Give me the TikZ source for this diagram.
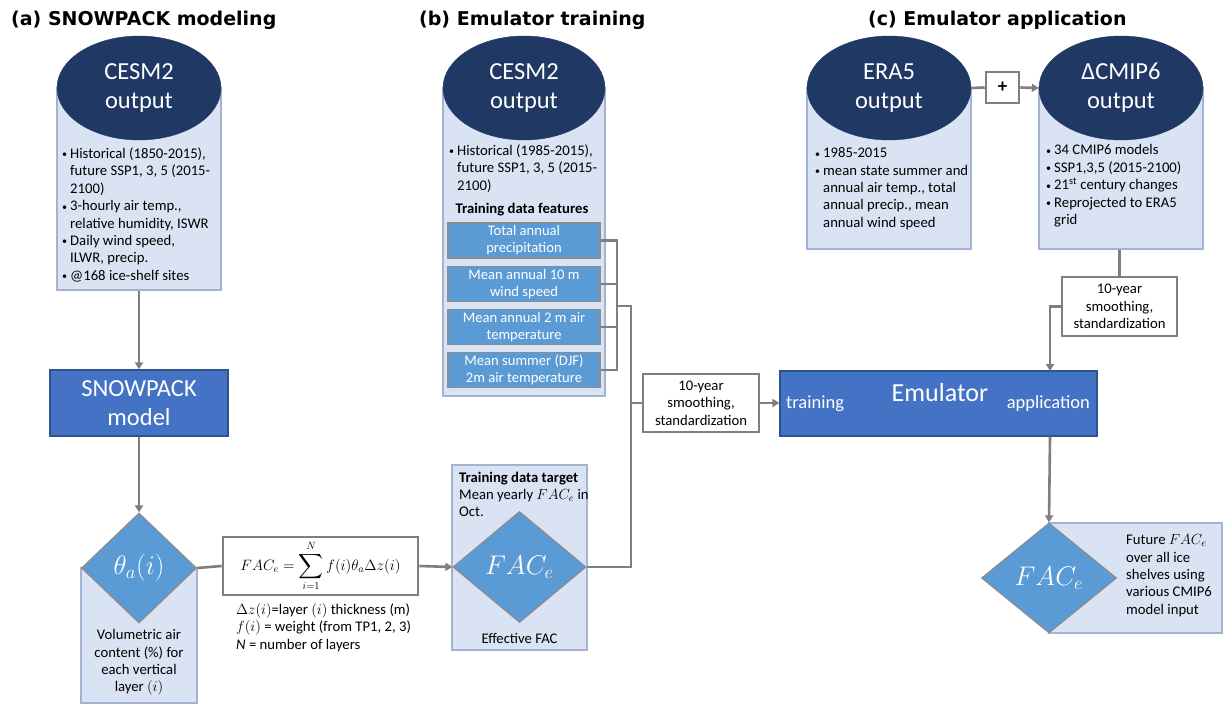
\RequirePackage{fix-cm}
\documentclass[tikz,border=0pt]{standalone}
\usepackage{amsmath}
\usepackage{fontspec}
\setmainfont{Carlito}
\newfontfamily\titlefont{DejaVu Sans}
\usetikzlibrary{shapes.geometric,arrows.meta}
\definecolor{navy}{HTML}{203864}
\definecolor{lightbg}{HTML}{DAE3F3}
\definecolor{lightbd}{HTML}{A3B4D3}
\definecolor{midblue}{HTML}{4472C4}
\definecolor{midbd}{HTML}{2F528F}
\definecolor{skyblue}{HTML}{5B9BD5}
\definecolor{linegray}{HTML}{7F7F7F}
\definecolor{bordgray}{HTML}{8C8C8C}
\newcommand\bitem{\makebox[8pt][l]{\raisebox{0.6pt}{\fontsize{10}{10}\selectfont\textbullet}}}
\newcommand\bcont{\hspace*{8pt}}
\newcommand\bigsum{\mathop{\vcenter{\hbox{\fontsize{17}{17}\selectfont$\displaystyle\sum$}}}\limits}
\tikzset{
  conn/.style={draw=linegray, line width=2.6pt},
  arr/.style={conn, -{Triangle[length=7pt,width=8pt]}},
  lightbox/.style={rectangle, draw=lightbd, fill=lightbg, line width=1.2pt, inner sep=0pt},
  can/.style={ellipse, fill=navy, draw=navy, text=white, inner sep=0pt, align=center,
    font=\fontsize{24.5}{29}\selectfont, minimum width=164pt, minimum height=104pt},
  bluebox/.style={rectangle, fill=midblue, draw=midbd, line width=1.2pt, text=white, align=center, inner sep=0pt},
  feat/.style={rectangle, fill=skyblue, draw=bordgray, line width=1.5pt, text=white, align=center,
    font=\fontsize{14.6}{17}\selectfont, minimum width=152pt, minimum height=35pt, inner sep=0pt},
  dia/.style={diamond, fill=skyblue, draw=bordgray, line width=1.2pt, text=white, inner sep=0pt,
    font=\fontsize{27}{30}\selectfont},
  whitebox/.style={rectangle, draw=linegray, fill=white, line width=2.6pt, align=center, inner sep=0pt,
    font=\fontsize{14.7}{17.3}\selectfont},
  body/.style={align=left, inner sep=0pt, font=\fontsize{14.7}{17.4}\selectfont, anchor=north west},
  ctext/.style={align=center, inner sep=0pt, font=\fontsize{14.7}{17.2}\selectfont},
  ttl/.style={font=\titlefont\bfseries\fontsize{19}{22}\selectfont, anchor=west, inner sep=0pt},
}
\begin{document}
\begin{tikzpicture}[x=1pt,y=-1pt]
\useasboundingbox (0,0) rectangle (1223,706);
\fill[white] (0,0) rectangle (1223,706);

% titles
\node[ttl] (tA) at (11,20) {(a) SNOWPACK modeling};
\node[ttl] (tB) at (419,20) {(b) Emulator training};
\node[ttl] (tC) at (868,20) {(c) Emulator application};

% ---------- panel a ----------
\node[lightbox, minimum width=164pt, minimum height=202pt] (aBox) at (139,189) {};
\node[can] (aEll) at (139,88) {CESM2\\output};
\node[body] (aTxt) at (62,147.5) {\bitem Historical (1850-2015),\\
\bcont future SSP1, 3, 5 (2015-\\
\bcont 2100)\\
\bitem 3-hourly air temp.,\\
\bcont relative humidity, ISWR\\
\bitem Daily wind speed,\\
\bcont ILWR, precip.\\
\bitem @168 ice-shelf sites};
\node[bluebox, minimum width=178pt, minimum height=66pt, font=\fontsize{24.5}{29}\selectfont] (snow) at (139,403) {SNOWPACK\\model};
\node[lightbox, minimum width=116pt, minimum height=135pt] (dABox) at (139,635.5) {};
\node[dia, minimum width=115pt, minimum height=110pt] (dA) at (139,568) {$\theta_a(i)$};
\node[ctext] (dATxt) at (139,662.5) {Volumetric air\\content (\%) for\\each vertical\\layer $(i)$};
\node[whitebox, minimum width=195pt, minimum height=58pt, font=\fontsize{15}{17}\selectfont] (form) at (320.5,566) {$FAC_e=\bigsum_{i=1}^{N} f(i)\theta_a\Delta z(i)$};
\node[body] (formNote) at (236,603) {$\Delta z(i)$=layer $(i)$ thickness (m)\\
$f(i)$ = weight (from TP1, 2, 3)\\
\textit{N} = number of layers};

\draw[arr] (aBox.south) -- (snow.north);
\draw[arr] (snow.south) -- (dA.north);
\draw[conn] (dA.east) -- (form.west);

% ---------- panel b ----------
\node[lightbox, minimum width=162pt, minimum height=308pt] (bBox) at (524,242) {};
\node[can, minimum width=162pt] (bEll) at (524,88) {CESM2\\output};
\node[body] (bTxt) at (449,144.5) {\bitem Historical (1985-2015),\\
\bcont future SSP1, 3, 5 (2015-\\
\bcont 2100)};
\node[ctext, font=\fontsize{14.7}{17}\selectfont\bfseries] (featT) at (522,210) {Training data features};
\node[feat] (f1) at (524,240.5) {Total annual\\precipitation};
\node[feat] (f2) at (524,284) {Mean annual 10 m\\wind speed};
\node[feat] (f3) at (524,327) {Mean annual 2 m air\\temperature};
\node[feat] (f4) at (524,370) {Mean summer (DJF)\\2m air temperature};

\node[lightbox, minimum width=135pt, minimum height=185pt] (tBox) at (519.5,557.5) {};
\node[body] (tgt) at (459,471.5) {\textbf{Training data target}\\Mean yearly $FAC_e$ in\\Oct.};
\node[dia, minimum width=133pt, minimum height=111pt] (dB) at (519.5,567) {$FAC_e$};
\node[ctext] (eff) at (519.5,638) {Effective FAC};
\draw[arr] (form.east) -- (dB.west);

\coordinate (brk) at (617,306);
\coordinate (trunk) at (631,306);
\draw[conn] (f1.east) -| (brk);
\draw[conn] (f2.east) -| (brk);
\draw[conn] (f3.east) -| (brk);
\draw[conn] (f4.east) -| (brk);
\draw[conn] (brk) -- (trunk) |- (dB.east);

\node[whitebox, minimum width=116pt, minimum height=58pt] (smB) at (701,403) {10-year\\smoothing,\\standardization};
\draw[conn] (trunk |- smB.west) -- (smB.west);

\node[bluebox, minimum width=317pt, minimum height=65pt] (emu) at (938.5,403.5) {};
\node[text=white, inner sep=0pt, font=\fontsize{26}{30}\selectfont] (emuT) at (940,393) {Emulator};
\node[text=white, inner sep=0pt, anchor=west, font=\fontsize{18.5}{22}\selectfont] (emuTr) at (786,404) {training};
\node[text=white, inner sep=0pt, anchor=east, font=\fontsize{18.5}{22}\selectfont] (emuAp) at (1090,404) {application};
\draw[arr] (smB.east) -- (smB.east -| emu.west);

% ---------- panel c ----------
\node[lightbox, minimum width=164pt, minimum height=161pt] (eraBox) at (889,168.5) {};
\node[can] (eraEll) at (889,88) {ERA5\\output};
\node[body] (eraTxt) at (815,147.5) {\bitem 1985-2015\\
\bitem mean state summer and\\
\bcont annual air temp., total\\
\bcont annual precip., mean\\
\bcont annual wind speed};
\node[lightbox, minimum width=164pt, minimum height=161pt] (cmBox) at (1121,168.5) {};
\node[can] (cmEll) at (1121,88) {ΔCMIP6\\output};
\node[body] (cmTxt) at (1046,144.5) {\bitem 34 CMIP6 models\\
\bitem SSP1,3,5 (2015-2100)\\
\bitem 21\textsuperscript{st} century changes\\
\bitem Reprojected to ERA5\\
\bcont grid};
\node[whitebox, minimum width=33pt, minimum height=31pt, font=\fontsize{19}{20}\selectfont\bfseries] (plus) at (1002.5,87.5) {+};
\draw[conn] (eraEll.east) -- (plus.west);
\draw[arr] (plus.east) -- (cmEll.west);

\node[whitebox, minimum width=115pt, minimum height=59pt] (smC) at (1119.5,306.5) {10-year\\smoothing,\\standardization};
\draw[conn] (smC.north |- cmBox.south) -- (smC.north);
\coordinate (appIn) at (1050,371);
\draw[arr] (smC.west) -| (appIn);

\node[lightbox, minimum width=173pt, minimum height=110pt] (cBox) at (1135.5,578) {};
\node[dia, minimum width=135pt, minimum height=110pt] (dC) at (1049,578) {$FAC_e$};
\node[body] (cTxt) at (1126,534.5) {Future $FAC_e$\\over all ice\\shelves using\\various CMIP6\\model input};
\draw[arr] (appIn |- emu.south) -- (dC.north);
\end{tikzpicture}
\end{document}
